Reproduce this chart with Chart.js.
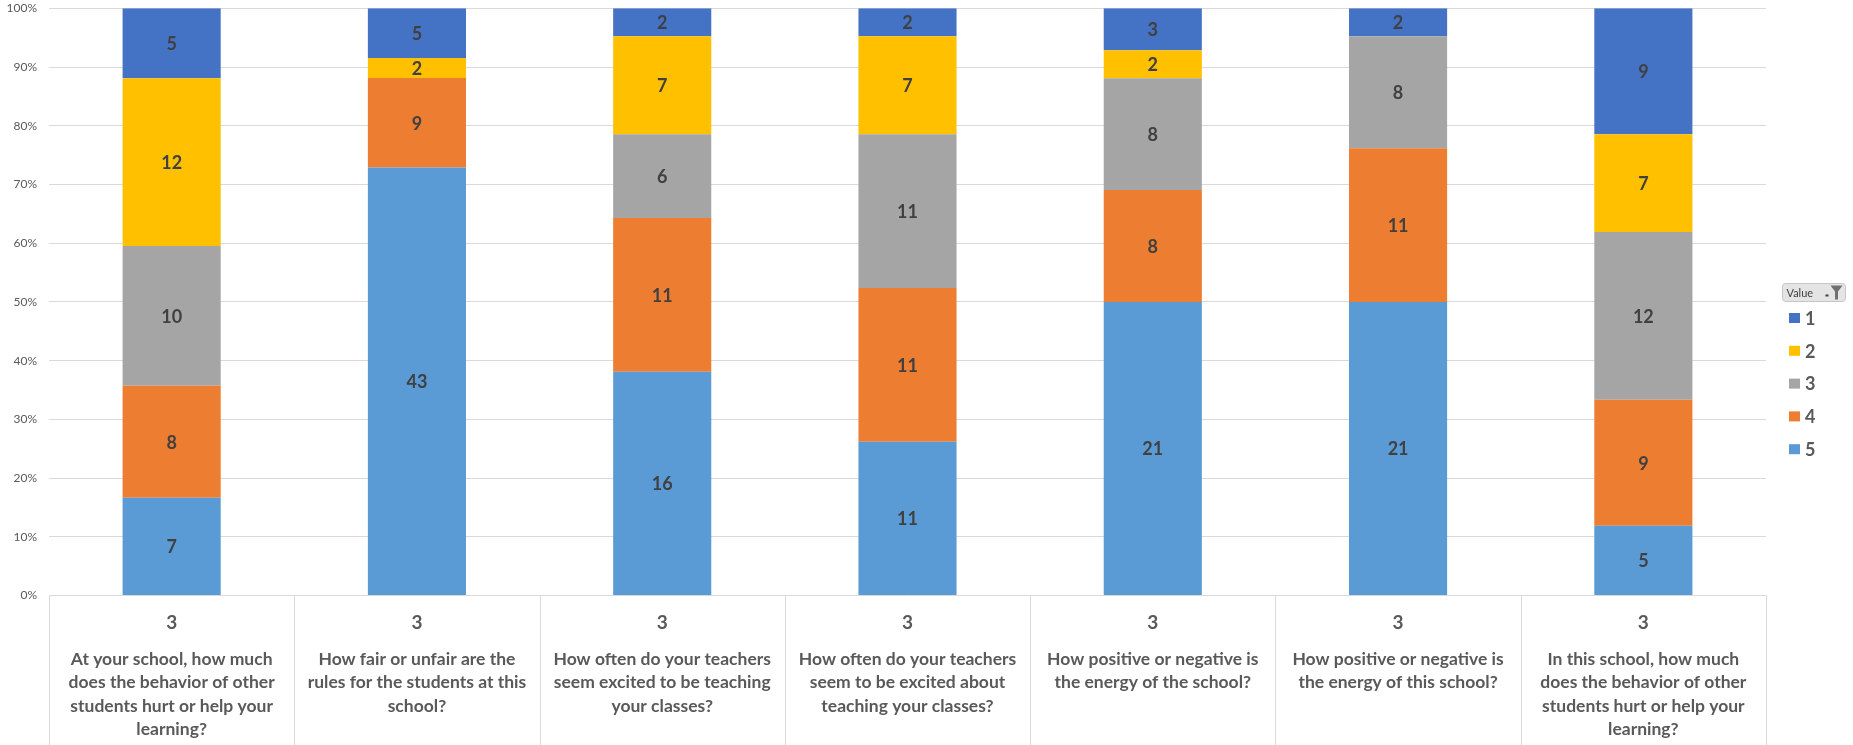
<!DOCTYPE html>
<html><head><meta charset="utf-8">
<script src="https://cdn.jsdelivr.net/npm/chart.js@4.4.0/dist/chart.umd.min.js"></script>
<style>html,body{margin:0;padding:0;background:#fff;overflow:hidden}#wrap{width:1853px;height:745px;position:relative}</style>
</head><body><div id="wrap"><canvas id="c" width="1853" height="745"></canvas></div>
<script>
// ---- data ----
const innerLabels = ['3', '3', '3', '3', '3', '3', '3'];
const questions = [
  ['At your school, how much', 'does the behavior of other', 'students hurt or help your', 'learning?'],
  ['How fair or unfair are the', 'rules for the students at this', 'school?'],
  ['How often do your teachers', 'seem excited to be teaching', 'your classes?'],
  ['How often do your teachers', 'seem to be excited about', 'teaching your classes?'],
  ['How positive or negative is', 'the energy of the school?'],
  ['How positive or negative is', 'the energy of this school?'],
  ['In this school, how much', 'does the behavior of other', 'students hurt or help your', 'learning?']
];
const seriesNames = ['1', '2', '3', '4', '5'];
const value1 = [5, 5, 2, 2, 3, 2, 9];
const value2 = [12, 2, 7, 7, 2, 0, 7];
const value3 = [10, 0, 6, 11, 8, 8, 12];
const value4 = [8, 9, 11, 11, 8, 11, 9];
const value5 = [7, 43, 16, 11, 21, 21, 5];
const seriesColors = ['#4472C4', '#FFC000', '#A5A5A5', '#ED7D31', '#5B9BD5'];
const yTickValues = [0, 10, 20, 30, 40, 50, 60, 70, 80, 90, 100];
const legendTitle = 'Value';

// ---- build ----
const allSeries = [value1, value2, value3, value4, value5];
const totals = innerLabels.map((_, i) => allSeries.reduce((s, a) => s + a[i], 0));
const FONT = 'Lato, "Open Sans", sans-serif';
// stack bottom-up: 5,4,3,2,1
const datasets = [4, 3, 2, 1, 0].map(k => ({
  label: seriesNames[k],
  counts: allSeries[k],
  data: allSeries[k].map((v, i) => v / totals[i] * 100),
  backgroundColor: seriesColors[k],
  borderWidth: 0,
  categoryPercentage: 1,
  barPercentage: 0.4,
  xAxisID: 'x', yAxisID: 'y'
}));

const barLabels = {
  id: 'barLabels',
  afterDatasetsDraw(chart) {
    const ctx = chart.ctx;
    ctx.save();
    ctx.font = 'bold 18px ' + FONT;
    ctx.fillStyle = '#404040';
    ctx.textAlign = 'center';
    ctx.textBaseline = 'middle';
    chart.data.datasets.forEach((ds, di) => {
      const meta = chart.getDatasetMeta(di);
      meta.data.forEach((bar, i) => {
        const c = ds.counts[i];
        if (!c) return;
        ctx.fillText(String(c), bar.x, (bar.y + bar.base) / 2 + 1);
      });
    });
    ctx.restore();
  }
};

const separators = {
  id: 'separators',
  afterDraw(chart) {
    const xs = chart.scales.x, ctx = chart.ctx, n = xs.getLabels().length;
    const w = (xs.right - xs.left) / n;
    ctx.save();
    ctx.strokeStyle = '#D9D9D9';
    ctx.lineWidth = 1;
    for (let i = 0; i <= n; i++) {
      const x = Math.round(xs.left + i * w) + 0.5;
      ctx.beginPath();
      ctx.moveTo(x, chart.chartArea.bottom);
      ctx.lineTo(x, chart.height);
      ctx.stroke();
    }
    ctx.restore();
  }
};

const sideLegend = {
  id: 'sideLegend',
  afterDraw(chart) {
    const ctx = chart.ctx;
    ctx.save();
    const bx = 1782.5, by = 283.5, bw = 63, bh = 18;
    ctx.fillStyle = '#E4E4E4';
    ctx.strokeStyle = '#C6C6C6';
    ctx.lineWidth = 1;
    ctx.beginPath();
    ctx.roundRect(bx, by, bw, bh, 3);
    ctx.fill(); ctx.stroke();
    ctx.fillStyle = '#404040';
    ctx.font = '11px ' + FONT;
    ctx.textAlign = 'left';
    ctx.textBaseline = 'middle';
    ctx.fillText(legendTitle, bx + 4, by + bh / 2 + 1);
    ctx.fillRect(bx + 43, by + 11, 3, 2);
    ctx.fillStyle = '#707070';
    ctx.beginPath();
    ctx.moveTo(bx + 48, by + 2);
    ctx.lineTo(bx + 60, by + 2);
    ctx.lineTo(bx + 55.5, by + 8);
    ctx.lineTo(bx + 55.5, by + 16);
    ctx.lineTo(bx + 52.5, by + 16);
    ctx.lineTo(bx + 52.5, by + 8);
    ctx.closePath();
    ctx.fill();
    const ds = chart.data.datasets.slice().reverse();
    ds.forEach((d, i) => {
      const cy = 318 + i * 32.8;
      ctx.fillStyle = d.backgroundColor;
      ctx.fillRect(1789, cy - 5, 11, 10);
      ctx.fillStyle = '#595959';
      ctx.font = 'bold 18px ' + FONT;
      ctx.textBaseline = 'middle';
      ctx.fillText(d.label, 1805, cy + 1);
    });
    ctx.restore();
  }
};

new Chart(document.getElementById('c'), {
  type: 'bar',
  data: { labels: innerLabels, datasets },
  plugins: [barLabels, separators, sideLegend],
  options: {
    responsive: false,
    devicePixelRatio: 1,
    animation: false,
    layout: { padding: { top: 0, right: 87, left: 0, bottom: 0 } },
    plugins: { legend: { display: false }, tooltip: { enabled: false } },
    scales: {
      x: {
        stacked: true,
        offset: true,
        grid: { display: false, drawTicks: false },
        border: { display: false },
        ticks: { color: '#595959', font: { family: FONT, size: 19, weight: 'bold' }, padding: 16, autoSkip: false, maxRotation: 0 },
        afterFit: s => { s.height = 36; }
      },
      x2: {
        type: 'category',
        labels: questions,
        position: 'bottom',
        offset: true,
        grid: { display: false, drawTicks: false },
        border: { display: false },
        ticks: { color: '#595959', font: { family: FONT, size: 17.5, weight: 'bold', lineHeight: 23.6 / 17.5 }, padding: 15.5, autoSkip: false, maxRotation: 0 },
        afterFit: s => { s.height = 745 - 8.3 - 587.3 - 36; }
      },
      y: {
        stacked: true,
        min: 0, max: 100,
        afterBuildTicks: s => { s.ticks = yTickValues.map(v => ({ value: v })); },
        grid: { color: '#D9D9D9', drawTicks: false },
        border: { display: false },
        ticks: { color: '#595959', font: { family: FONT, size: 12 }, padding: 12, callback: v => v + '%' },
        afterFit: s => { s.width = 49; s.paddingTop = 8.3; s.paddingBottom = 0; }
      }
    }
  }
});
</script>
</body></html>
